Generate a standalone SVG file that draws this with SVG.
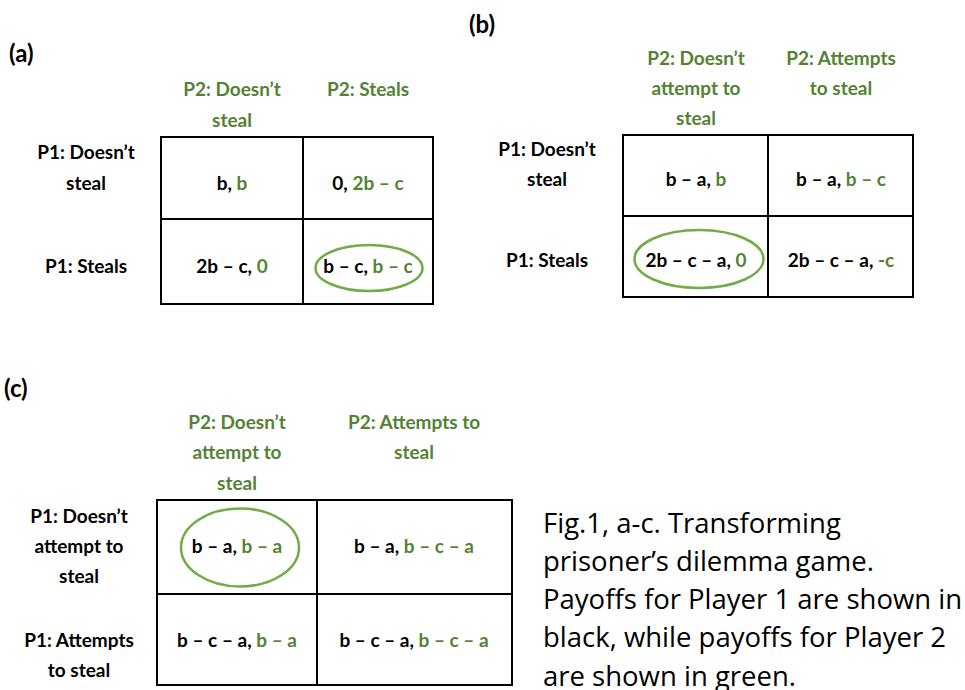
<svg xmlns="http://www.w3.org/2000/svg" width="965" height="690" viewBox="0 0 965 690">
<style>
.t{font-family:Lato,"Liberation Sans",sans-serif;font-weight:bold;font-size:19px;fill:#000;text-anchor:middle}
.g{fill:#548235}
.h{font-family:Lato,"Liberation Sans",sans-serif;font-weight:bold;font-size:19px;fill:#548235;text-anchor:middle}
.p{font-family:Lato,"Liberation Sans",sans-serif;font-weight:bold;font-size:24px;fill:#000}
.grid{fill:none;stroke:#000;stroke-width:2}
.ell{fill:none;stroke:#70AD47;stroke-width:2.5}
.cap{font-family:"Open Sans","Liberation Sans",sans-serif;font-size:27.5px;fill:#000}
</style>
<rect width="965" height="690" fill="#fff"/>

<g id="panel-a">
<text class="p" x="9" y="62">(a)</text>
<text class="h" x="232" y="96">P2: Doesn’t</text>
<text class="h" x="232" y="127">steal</text>
<text class="h" x="368" y="96">P2: Steals</text>
<text class="t" x="86" y="159">P1: Doesn’t</text>
<text class="t" x="86" y="190">steal</text>
<text class="t" x="86" y="273">P1: Steals</text>
<g id="a-grid">
<rect class="grid" x="161" y="137" width="272" height="167"/>
<line class="grid" x1="303" y1="137" x2="303" y2="304"/>
<line class="grid" x1="161" y1="219" x2="433" y2="219"/>
</g>
<text class="t" x="232" y="190">b, <tspan class="g">b</tspan></text>
<text class="t" x="368" y="190">0, <tspan class="g">2b – c</tspan></text>
<text class="t" x="232" y="273">2b – c, <tspan class="g">0</tspan></text>
<text class="t" x="368" y="273">b – c, <tspan class="g">b – c</tspan></text>
<ellipse class="ell" cx="369" cy="268" rx="53.5" ry="23"/>
</g>

<g id="panel-b">
<text class="p" x="469" y="33">(b)</text>
<text class="h" x="696" y="65">P2: Doesn’t</text>
<text class="h" x="696" y="95">attempt to</text>
<text class="h" x="696" y="125">steal</text>
<text class="h" x="841" y="65">P2: Attempts</text>
<text class="h" x="841" y="95">to steal</text>
<text class="t" x="547" y="156">P1: Doesn’t</text>
<text class="t" x="547" y="186">steal</text>
<text class="t" x="547" y="267">P1: Steals</text>
<g id="b-grid">
<rect class="grid" x="623" y="135" width="290" height="162"/>
<line class="grid" x1="768" y1="135" x2="768" y2="297"/>
<line class="grid" x1="623" y1="216" x2="913" y2="216"/>
</g>
<text class="t" x="696" y="186">b – a, <tspan class="g">b</tspan></text>
<text class="t" x="841" y="186">b – a, <tspan class="g">b – c</tspan></text>
<text class="t" x="696" y="267">2b – c – a, <tspan class="g">0</tspan></text>
<text class="t" x="841" y="267">2b – c – a, <tspan class="g">-c</tspan></text>
<ellipse class="ell" cx="699" cy="259" rx="64.5" ry="29"/>
</g>

<g id="panel-c">
<text class="p" x="4" y="397">(c)</text>
<text class="h" x="237" y="429">P2: Doesn’t</text>
<text class="h" x="237" y="459">attempt to</text>
<text class="h" x="237" y="490">steal</text>
<text class="h" x="414" y="429">P2: Attempts to</text>
<text class="h" x="414" y="459">steal</text>
<text class="t" x="79" y="523">P1: Doesn’t</text>
<text class="t" x="79" y="553">attempt to</text>
<text class="t" x="79" y="583">steal</text>
<text class="t" x="79" y="647">P1: Attempts</text>
<text class="t" x="79" y="677">to steal</text>
<g id="c-grid">
<rect class="grid" x="157" y="500" width="355" height="185"/>
<line class="grid" x1="317" y1="500" x2="317" y2="685"/>
<line class="grid" x1="157" y1="594" x2="512" y2="594"/>
</g>
<text class="t" x="237" y="553">b – a, <tspan class="g">b – a</tspan></text>
<text class="t" x="414" y="553">b – a, <tspan class="g">b – c – a</tspan></text>
<text class="t" x="237" y="647">b – c – a, <tspan class="g">b – a</tspan></text>
<text class="t" x="414" y="647">b – c – a, <tspan class="g">b – c – a</tspan></text>
<ellipse class="ell" cx="240" cy="547.5" rx="59" ry="39"/>
</g>

<g id="caption">
<text class="cap" x="543" y="533">Fig.1, a-c. Transforming</text>
<text class="cap" x="543" y="571">prisoner’s dilemma game.</text>
<text class="cap" x="543" y="609">Payoffs for Player 1 are shown in</text>
<text class="cap" x="543" y="647">black, while payoffs for Player 2</text>
<text class="cap" x="543" y="686">are shown in green.</text>
</g>
</svg>
